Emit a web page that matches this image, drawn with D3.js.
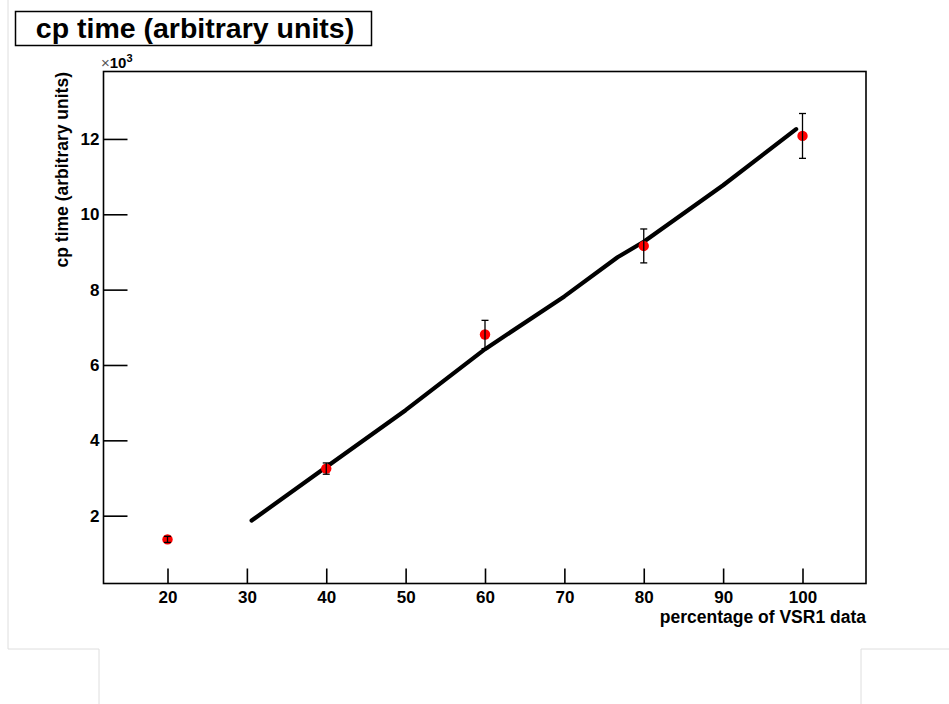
<!DOCTYPE html>
<html>
<head>
<meta charset="utf-8">
<script src="https://cdn.jsdelivr.net/npm/d3@7"></script>
<style>
  html, body { margin: 0; padding: 0; background: #fff; }
  svg { display: block; }
  text { font-family: "Liberation Sans", Arial, Helvetica, sans-serif; font-weight: bold; fill: #000; }
</style>
</head>
<body>
<svg id="chart" width="949" height="704"></svg>
<script>
// ---- data ----
const pointX    = [20, 40, 60, 80, 100];
const pointY    = [1370, 3250, 6810, 9160, 12080];
const pointErr  = [80, 150, 375, 450, 595];
const lineX     = [30.6, 40, 50, 60, 70, 76.7, 80, 90, 99.2];
const lineY     = [1870, 3290, 4800, 6420, 7820, 8860, 9270, 10770, 12260];
const xMajorTicks = [20, 30, 40, 50, 60, 70, 80, 90, 100];
const yMajorTicks = [2000, 4000, 6000, 8000, 10000, 12000];
const titleText = "cp time (arbitrary units)";
const xTitle = "percentage of VSR1 data";
const yTitle = "cp time (arbitrary units)";

const svg = d3.select("#chart");
svg.append("rect").attr("width", 949).attr("height", 704).attr("fill", "#fff");

// faint page outline
const frameColor = "#dedede";
[[8, 0, 8, 649], [8, 649, 99, 649], [99, 649, 99, 704], [861, 649, 861, 704], [861, 649, 949, 649]]
  .forEach(([x1, y1, x2, y2]) => svg.append("line").attr("x1", x1).attr("y1", y1).attr("x2", x2).attr("y2", y2)
    .attr("stroke", frameColor).attr("stroke-width", 1));

const x = d3.scaleLinear().domain([12, 108]).range([104, 866]);
const y = d3.scaleLinear().domain([205, 13790]).range([583.3, 71.5]);

// minor ticks
const xMinor = d3.range(14, 108, 2).filter(v => v % 10 !== 0);
const yMinor = d3.range(500, 13790, 500).filter(v => v % 2000 !== 0);

const gx = svg.append("g").attr("transform", "translate(0,583.5)");
gx.call(d3.axisBottom(x).tickValues(xMinor).tickSize(-7.5).tickFormat(""));
gx.call(d3.axisBottom(x).tickValues(xMajorTicks).tickSize(-15).tickPadding(7).tickFormat(d3.format("d")));
gx.selectAll(".domain").remove();
gx.selectAll("line").attr("stroke", "#000").attr("stroke-width", 1.6);
gx.selectAll("text").attr("font-size", 17).attr("font-weight", "bold")
  .attr("font-family", '"Liberation Sans", Arial, sans-serif').attr("dy", "0.75em");

const gy = svg.append("g").attr("transform", "translate(103.5,0)");
gy.call(d3.axisLeft(y).tickValues(yMinor).tickSize(-12).tickFormat(""));
gy.call(d3.axisLeft(y).tickValues(yMajorTicks).tickSize(-24).tickPadding(4).tickFormat(d => d / 1000));
gy.selectAll(".domain").remove();
gy.selectAll("line").attr("stroke", "#000").attr("stroke-width", 1.6);
gy.selectAll("text").attr("font-size", 17).attr("font-weight", "bold")
  .attr("font-family", '"Liberation Sans", Arial, sans-serif');

// plot frame
svg.append("rect").attr("x", 103.5).attr("y", 71.5).attr("width", 762.5).attr("height", 512)
  .attr("fill", "none").attr("stroke", "#000").attr("stroke-width", 1.6);

// x10^3
const mult = svg.append("text").attr("x", 101).attr("y", 68).attr("font-size", 15).attr("font-weight", "bold");
mult.append("tspan").text("\u00d7").attr("font-weight", "normal").attr("fill", "#555");
mult.append("tspan").text("10");
mult.append("tspan").text("3").attr("font-size", 11).attr("dy", -6);

// fitted line
const line = d3.line().x((d, i) => x(lineX[i])).y((d, i) => y(lineY[i]));
svg.append("path").datum(lineY).attr("d", line).attr("fill", "none")
  .attr("stroke", "#000").attr("stroke-width", 4.2).attr("stroke-linejoin", "round").attr("stroke-linecap", "round");

// points + error bars
const pts = svg.append("g");
pointX.forEach((px, i) => {
  const cx = x(px), top = y(pointY[i] + pointErr[i]), bot = y(pointY[i] - pointErr[i]);
  pts.append("circle").attr("cx", cx).attr("cy", y(pointY[i])).attr("r", 5.2).attr("fill", "#f00");
  pts.append("line").attr("x1", cx).attr("x2", cx).attr("y1", top).attr("y2", bot).attr("stroke", "#000").attr("stroke-width", 1.3);
  [top, bot].forEach(yy => pts.append("line").attr("x1", cx - 3.5).attr("x2", cx + 3.5).attr("y1", yy).attr("y2", yy)
    .attr("stroke", "#000").attr("stroke-width", 1.3));
});

// axis titles
svg.append("text").attr("x", 866).attr("y", 623).attr("text-anchor", "end").attr("font-size", 17.5).text(xTitle);
svg.append("text").attr("transform", "translate(68,72) rotate(-90)").attr("text-anchor", "end")
  .attr("font-size", 17.5).text(yTitle);

// title box
svg.append("rect").attr("x", 15.5).attr("y", 11.5).attr("width", 356).attr("height", 34)
  .attr("fill", "#fff").attr("stroke", "#000").attr("stroke-width", 1.5);
svg.append("text").attr("x", 195).attr("y", 38).attr("text-anchor", "middle").attr("font-size", 28.5).text(titleText);
</script>
</body>
</html>
